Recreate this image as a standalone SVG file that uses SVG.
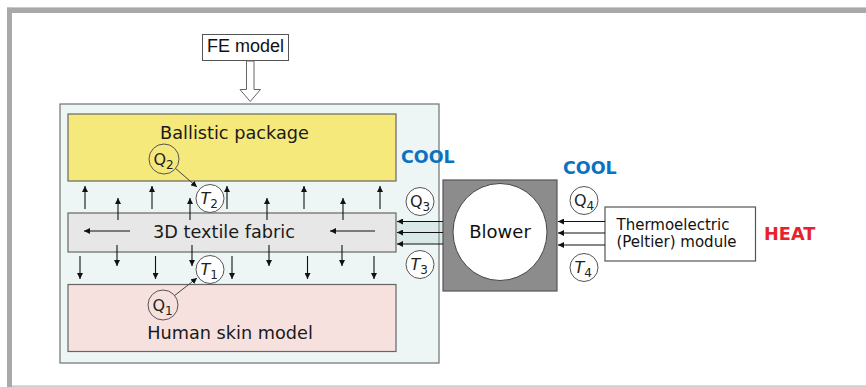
<svg xmlns="http://www.w3.org/2000/svg" width="866" height="387" viewBox="0 0 866 387">
<style>
.lbl{font-family:"DejaVu Sans",Verdana,sans-serif;font-size:17.7px;fill:#1a1a1a;text-anchor:middle}
.cool{font-family:"DejaVu Sans",Verdana,sans-serif;font-size:17.5px;font-weight:bold;fill:#0a72c2}
.heat{font-family:"DejaVu Sans",Verdana,sans-serif;font-size:17.7px;font-weight:bold;fill:#e8222c}
.sym{font-family:"DejaVu Sans",Verdana,sans-serif;font-size:16px;fill:#222}
.sub{font-size:12px}
.circ{stroke:#555;stroke-width:1}
.ar{stroke:#111;stroke-width:1.1;fill:none;marker-end:url(#ah)}
.ptr{stroke:#444;stroke-width:1;fill:none;marker-end:url(#ah)}
</style>
<defs>
<marker id="ah" viewBox="0 0 10 10" refX="10" refY="5" markerWidth="6" markerHeight="6" markerUnits="userSpaceOnUse" orient="auto">
<path d="M0,0 L10,5 L0,10 z" fill="#111"/>
</marker>
</defs>
<rect x="0" y="0" width="866" height="387" fill="#ffffff"/>
<g id="frame">
<rect x="7" y="7" width="859" height="1" fill="#d4d4d6"/>
<rect x="7" y="7.8" width="859" height="5.2" fill="#a9a9ac"/>
<rect x="7" y="7.8" width="5" height="379.2" fill="#a9a9ac"/>
<rect x="12" y="385.5" width="854" height="1.2" fill="#b9b9b9"/>
</g>
<g id="fe-model">
<rect x="202.5" y="34.5" width="86" height="26" fill="#fff" stroke="#555" stroke-width="1"/>
<text x="245.5" y="52" style="font-family:'Liberation Sans',Arial,sans-serif;font-size:18px;fill:#111;text-anchor:middle">FE model</text>
</g>
<g id="container">
<rect x="60" y="104" width="379" height="259" fill="#eef6f5" stroke="#6e7272" stroke-width="1.2"/>
</g>
<g id="duct">
<rect x="396" y="221" width="47" height="23" fill="#d9e9e8"/>
<line x1="439" y1="221" x2="439" y2="244" stroke="#6e7272" stroke-width="1"/>
</g>
<g id="ballistic">
<rect x="68" y="114" width="328" height="67" fill="#f6e97c" stroke="#666" stroke-width="1.2"/>
<text class="lbl" x="234.5" y="139">Ballistic package</text>
</g>
<g id="fabric">
<rect x="68" y="213" width="328" height="39" fill="#e7e7e7" stroke="#666" stroke-width="1.2"/>
<text class="lbl" x="224" y="238">3D textile fabric</text>
</g>
<g id="skin">
<rect x="68" y="284.5" width="328" height="67" fill="#f6e1df" stroke="#666" stroke-width="1.2"/>
<text class="lbl" x="230" y="339">Human skin model</text>
</g>
<g id="blower">
<rect x="443" y="180" width="114" height="111" fill="#8c8c8c" stroke="#555" stroke-width="1.2"/>
<ellipse cx="500" cy="232" rx="47" ry="48.5" fill="#fff" stroke="#444" stroke-width="1"/>
<text x="500" y="238" style="font-family:'DejaVu Sans',Verdana,sans-serif;font-size:18px;fill:#111;text-anchor:middle">Blower</text>
</g>
<g id="peltier">
<rect x="605" y="207" width="150.5" height="54" fill="#fff" stroke="#555" stroke-width="1.2"/>
<text x="616.5" y="230" style="font-family:'DejaVu Sans',Verdana,sans-serif;font-size:15px;fill:#111">Thermoelectric</text>
<text x="616.5" y="247" style="font-family:'DejaVu Sans',Verdana,sans-serif;font-size:15px;fill:#111">(Peltier) module</text>
</g>
<g id="labels">
<text class="cool" x="401" y="163">COOL</text>
<text class="cool" x="563" y="173.5">COOL</text>
<text class="heat" x="764" y="239.5">HEAT</text>
</g>
<g id="connectors">
<path d="M246.5,61 L254,61 L254,89.5 L260.5,89.5 L250.2,101.5 L240,89.5 L246.5,89.5 Z" fill="#fff" stroke="#666" stroke-width="1"/>
<line class="ar" x1="85" y1="209" x2="85" y2="186"/>
<line class="ar" x1="152" y1="209" x2="152" y2="186"/>
<line class="ar" x1="227" y1="209" x2="227" y2="186"/>
<line class="ar" x1="304" y1="209" x2="304" y2="186"/>
<line class="ar" x1="380" y1="209" x2="380" y2="186"/>
<line class="ar" x1="118" y1="220" x2="118" y2="198"/>
<line class="ar" x1="190" y1="220" x2="190" y2="198"/>
<line class="ar" x1="267" y1="220" x2="267" y2="198"/>
<line class="ar" x1="343" y1="220" x2="343" y2="198"/>
<line class="ar" x1="80" y1="256" x2="80" y2="279"/>
<line class="ar" x1="155.5" y1="256" x2="155.5" y2="279"/>
<line class="ar" x1="232" y1="256" x2="232" y2="279"/>
<line class="ar" x1="307.5" y1="256" x2="307.5" y2="279"/>
<line class="ar" x1="374" y1="256" x2="374" y2="279"/>
<line class="ar" x1="117" y1="245" x2="117" y2="266"/>
<line class="ar" x1="192" y1="245" x2="192" y2="266"/>
<line class="ar" x1="269" y1="245" x2="269" y2="266"/>
<line class="ar" x1="342" y1="245" x2="342" y2="266"/>
<line class="ar" x1="130" y1="231" x2="84" y2="231"/>
<line class="ar" x1="375" y1="231" x2="330" y2="231"/>
<line class="ar" x1="443" y1="221.5" x2="397" y2="221.5"/>
<line class="ar" x1="443" y1="232.5" x2="397" y2="232.5"/>
<line class="ar" x1="443" y1="244" x2="397" y2="244"/>
<line class="ar" x1="605" y1="221.5" x2="558" y2="221.5"/>
<line class="ar" x1="605" y1="233" x2="558" y2="233"/>
<line class="ar" x1="605" y1="245" x2="558" y2="245"/>
<line class="ptr" x1="175" y1="168" x2="197" y2="187"/>
<line class="ptr" x1="174" y1="296" x2="197" y2="278"/>
</g>
<g id="Q2">
<circle class="circ" cx="164" cy="159" r="15" fill="#f6e97c"/>
<text class="sym" x="153.5" y="165">Q<tspan class="sub" dy="4">2</tspan></text>
</g>
<g id="T2">
<circle class="circ" cx="210" cy="198.5" r="14" fill="#fff"/>
<text class="sym" x="200.5" y="204" font-style="italic">T<tspan class="sub" dy="4" font-style="normal">2</tspan></text>
</g>
<g id="T1">
<circle class="circ" cx="210" cy="269.5" r="14" fill="#fff"/>
<text class="sym" x="200.5" y="275" font-style="italic">T<tspan class="sub" dy="4" font-style="normal">1</tspan></text>
</g>
<g id="Q1">
<circle class="circ" cx="163" cy="305" r="15" fill="#f6e1df"/>
<text class="sym" x="152.5" y="311">Q<tspan class="sub" dy="4">1</tspan></text>
</g>
<g id="Q3">
<circle class="circ" cx="420" cy="201.5" r="14" fill="#fff"/>
<text class="sym" x="410" y="207">Q<tspan class="sub" dy="4">3</tspan></text>
</g>
<g id="T3">
<circle class="circ" cx="420" cy="264.5" r="14" fill="#fff"/>
<text class="sym" x="410.5" y="270" font-style="italic">T<tspan class="sub" dy="4" font-style="normal">3</tspan></text>
</g>
<g id="Q4">
<circle class="circ" cx="584" cy="200.5" r="14" fill="#fff"/>
<text class="sym" x="574" y="206">Q<tspan class="sub" dy="4">4</tspan></text>
</g>
<g id="T4">
<circle class="circ" cx="584" cy="267.5" r="14" fill="#fff"/>
<text class="sym" x="574.5" y="273" font-style="italic">T<tspan class="sub" dy="4" font-style="normal">4</tspan></text>
</g>
</svg>
